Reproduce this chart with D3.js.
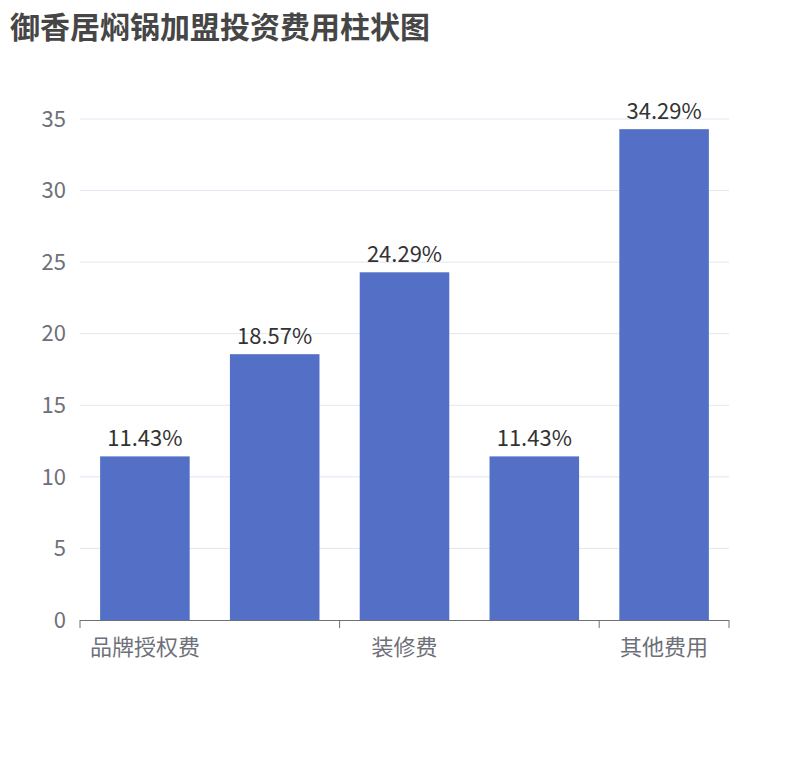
<!DOCTYPE html>
<html><head><meta charset="utf-8">
<script src="https://cdn.jsdelivr.net/npm/d3@7/dist/d3.min.js"></script>
<style>body{margin:0;background:#fff}text{font-family:"Noto Sans CJK SC","Noto Sans",sans-serif}</style>
</head><body>
<svg id="chart" width="810" height="760"></svg>
<script>
const categories = ['品牌授权费', '设备费', '装修费', '原料费', '其他费用'];
const values = [11.43, 18.57, 24.29, 11.43, 34.29];
const labels = ['11.43%', '18.57%', '24.29%', '11.43%', '34.29%'];
const yTicks = [0, 5, 10, 15, 20, 25, 30, 35];
const shownLabels = [0, 2, 4];

const svg = d3.select('#chart');
const x = d3.scaleBand().domain(categories).range([80, 729]).paddingInner(0.31).paddingOuter(0.155);
const xb = d3.scaleBand().domain(categories).range([80, 729]);
const y = d3.scaleLinear().domain([0, 35]).range([620, 119]);

svg.append('text').attr('x', 10).attr('y', 38).attr('font-size', 30).attr('font-weight', 'bold')
  .attr('fill', '#464646').text('御香居焖锅加盟投资费用柱状图');

svg.selectAll('.grid').data(yTicks.slice(1)).enter().append('line')
  .attr('x1', 80).attr('x2', 729).attr('y1', d => y(d)).attr('y2', d => y(d))
  .attr('stroke', '#e0e6f1');
svg.selectAll('.yl').data(yTicks).enter().append('text')
  .attr('x', 66).attr('y', d => y(d)).attr('dy', '0.35em').attr('text-anchor', 'end')
  .attr('font-size', 22).attr('fill', '#6e7079').text(d => d);

svg.selectAll('.bar').data(values).enter().append('rect')
  .attr('x', (d, i) => x(categories[i])).attr('width', x.bandwidth())
  .attr('y', d => y(d)).attr('height', d => y(0) - y(d)).attr('fill', '#5470c6');
svg.selectAll('.bl').data(values).enter().append('text')
  .attr('x', (d, i) => x(categories[i]) + x.bandwidth() / 2).attr('y', d => y(d) - 10)
  .attr('text-anchor', 'middle').attr('font-size', 22).attr('fill', '#333').text((d, i) => labels[i]);

svg.append('line').attr('x1', 80).attr('x2', 729).attr('y1', 620.5).attr('y2', 620.5).attr('stroke', '#6e7079');
const tickPos = [80, xb(categories[2]), xb(categories[4]), 729];
svg.selectAll('.tk').data(tickPos).enter().append('line')
  .attr('x1', d => d).attr('x2', d => d).attr('y1', 620).attr('y2', 628).attr('stroke', '#6e7079');
svg.selectAll('.xl').data(shownLabels).enter().append('text')
  .attr('x', i => xb(categories[i]) + xb.bandwidth() / 2).attr('y', 655)
  .attr('text-anchor', 'middle').attr('font-size', 22).attr('fill', '#6e7079').text(i => categories[i]);
</script>
</body></html>
